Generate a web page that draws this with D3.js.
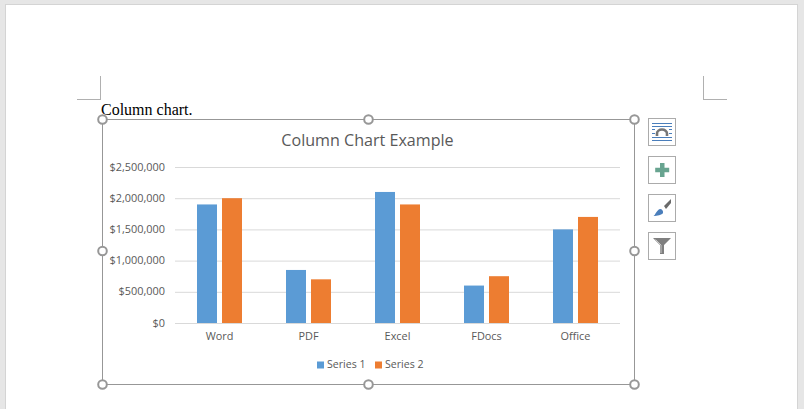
<!DOCTYPE html>
<html><head><meta charset="utf-8">
<script src="https://cdn.jsdelivr.net/npm/d3@7/dist/d3.min.js"></script>
<style>html,body{margin:0;padding:0;background:#e6e6e6;overflow:hidden}svg{display:block}text{font-family:"Open Sans",sans-serif}</style>
</head><body><svg id="c" width="804" height="409"></svg>
<script>
const categories=["Word","PDF","Excel","FDocs","Office"];
const seriesNames=["Series 1","Series 2"];
const series1=[1900000,850000,2100000,600000,1500000];
const series2=[2000000,700000,1900000,750000,1700000];
const colors=["#5b9bd5","#ed7d31"];
const yTicks=[0,500000,1000000,1500000,2000000,2500000];
const title="Column Chart Example";
const caption="Column chart.";

const svg=d3.select("#c");
svg.append("rect").attr("x",5.5).attr("y",4.5).attr("width",792).attr("height",410).attr("fill","#fff").attr("stroke","#d4d4d4");
const x=d3.scaleBand().domain(categories).range([175,620]);
const y=d3.scaleLinear().domain([0,2500000]).range([323,167]);
const inner=d3.scaleBand().domain(seriesNames).range([0,45]).paddingInner(0.2);

// page corner marks
const mark="#b0b0b0";
[[77,101,99.5,99.5],[100.5,100.5,76,100],[703.5,703.5,76,100],[703.5,727,99.5,99.5]].forEach(d=>
 svg.append("line").attr("x1",d[0]).attr("x2",d[1]).attr("y1",d[2]).attr("y2",d[3]).attr("stroke",mark));

svg.append("text").attr("x",101).attr("y",115).attr("font-size",16).style("font-family","'Liberation Serif',serif").attr("fill","#000").text(caption);

// chart frame
const fx0=102.5,fx1=634.5,fy0=119.5,fy1=384.5,fmx=368.5,fmy=251;
svg.append("rect").attr("x",fx0).attr("y",fy0).attr("width",fx1-fx0).attr("height",fy1-fy0).attr("fill","#fff").attr("stroke","#979797").attr("stroke-width",1);

svg.append("text").attr("x",367.5).attr("y",146).attr("text-anchor","middle").attr("font-size",16.1).attr("fill","#595959").text(title);

// y axis
const fmt=d=>"$"+d3.format(",")(d);
const yAxis=svg.append("g").attr("transform","translate(175,0)").call(d3.axisLeft(y).tickValues(yTicks).tickFormat(fmt).tickSize(-445).tickPadding(10));
yAxis.select(".domain").remove();
yAxis.selectAll("line").attr("stroke","#d9d9d9");
yAxis.selectAll("text").attr("font-size",10.9).attr("fill","#595959").style("font-family","'Open Sans',sans-serif").attr("dy","0.28em");

// x axis labels
const xAxis=svg.append("g").attr("transform","translate(0,323)").call(d3.axisBottom(x).tickSize(0).tickPadding(9));
xAxis.select(".domain").remove();
xAxis.selectAll("text").attr("font-size",10.9).attr("fill","#595959").style("font-family","'Open Sans',sans-serif");

// bars
[series1,series2].forEach((vals,s)=>{
 svg.append("g").selectAll("rect").data(vals).join("rect")
  .attr("x",(d,i)=>x(categories[i])+x.bandwidth()/2-22.5+inner(seriesNames[s]))
  .attr("y",d=>y(d)).attr("width",inner.bandwidth()).attr("height",d=>y(0)-y(d)).attr("fill",colors[s]);
});

// legend
const legX=[317,375];
seriesNames.forEach((n,i)=>{
 svg.append("rect").attr("x",legX[i]).attr("y",361.5).attr("width",7).attr("height",7).attr("fill",colors[i]);
 svg.append("text").attr("x",legX[i]+10).attr("y",368).attr("font-size",10.6).attr("fill","#595959").text(n);
});

// handles
[[fx0,fy0],[fmx,fy0],[fx1,fy0],[fx0,fmy],[fx1,fmy],[fx0,fy1],[fmx,fy1],[fx1,fy1]].forEach(p=>
 svg.append("circle").attr("cx",p[0]).attr("cy",p[1]).attr("r",4.3).attr("fill","#fff").attr("stroke","#979797").attr("stroke-width",2));

// side buttons
[118,156,194,232].forEach(t=>svg.append("rect").attr("x",648.5).attr("y",t+.5).attr("width",27).attr("height",27).attr("fill","#fff").attr("stroke","#ababab"));
// layout icon
const g1=svg.append("g");
[123.5,126.5,137.5,140.5].forEach(yy=>g1.append("line").attr("x1",652).attr("x2",672).attr("y1",yy).attr("y2",yy).attr("stroke","#4a7ebb"));
[129.5,133.5].forEach(yy=>{g1.append("line").attr("x1",652).attr("x2",655).attr("y1",yy).attr("y2",yy).attr("stroke","#4a7ebb");g1.append("line").attr("x1",669).attr("x2",672).attr("y1",yy).attr("y2",yy).attr("stroke","#4a7ebb");});
g1.append("path").attr("d","M657 136v-2.5a5 4 0 0 1 10 0v2.5").attr("fill","none").attr("stroke","#767676").attr("stroke-width",2.6);
// plus
svg.append("path").attr("d","M660 163h4.5v4.7h4.7v4.6h-4.7v4.7h-4.5v-4.7h-4.8v-4.6h4.8z").attr("fill","#68a490");
// brush
svg.append("path").attr("d","M664 206 L671 199 L671 203 L666 209z").attr("fill","#6a6a6a");
svg.append("path").attr("d","M653.5 216c2-1 3-6 6.5-7c2 0 3.5 2 3 4c-1 2-6 3-9.5 3z").attr("fill","#4a7ebb");
// filter
svg.append("path").attr("d","M653 238h18l-7 7v9h-4v-9z").attr("fill","#7f7f7f");
svg.append("path").attr("d","M655.5 239.5l5.5 5.5v8").attr("fill","none").attr("stroke","#d0d0d0").attr("stroke-width",.9);
</script></body></html>
